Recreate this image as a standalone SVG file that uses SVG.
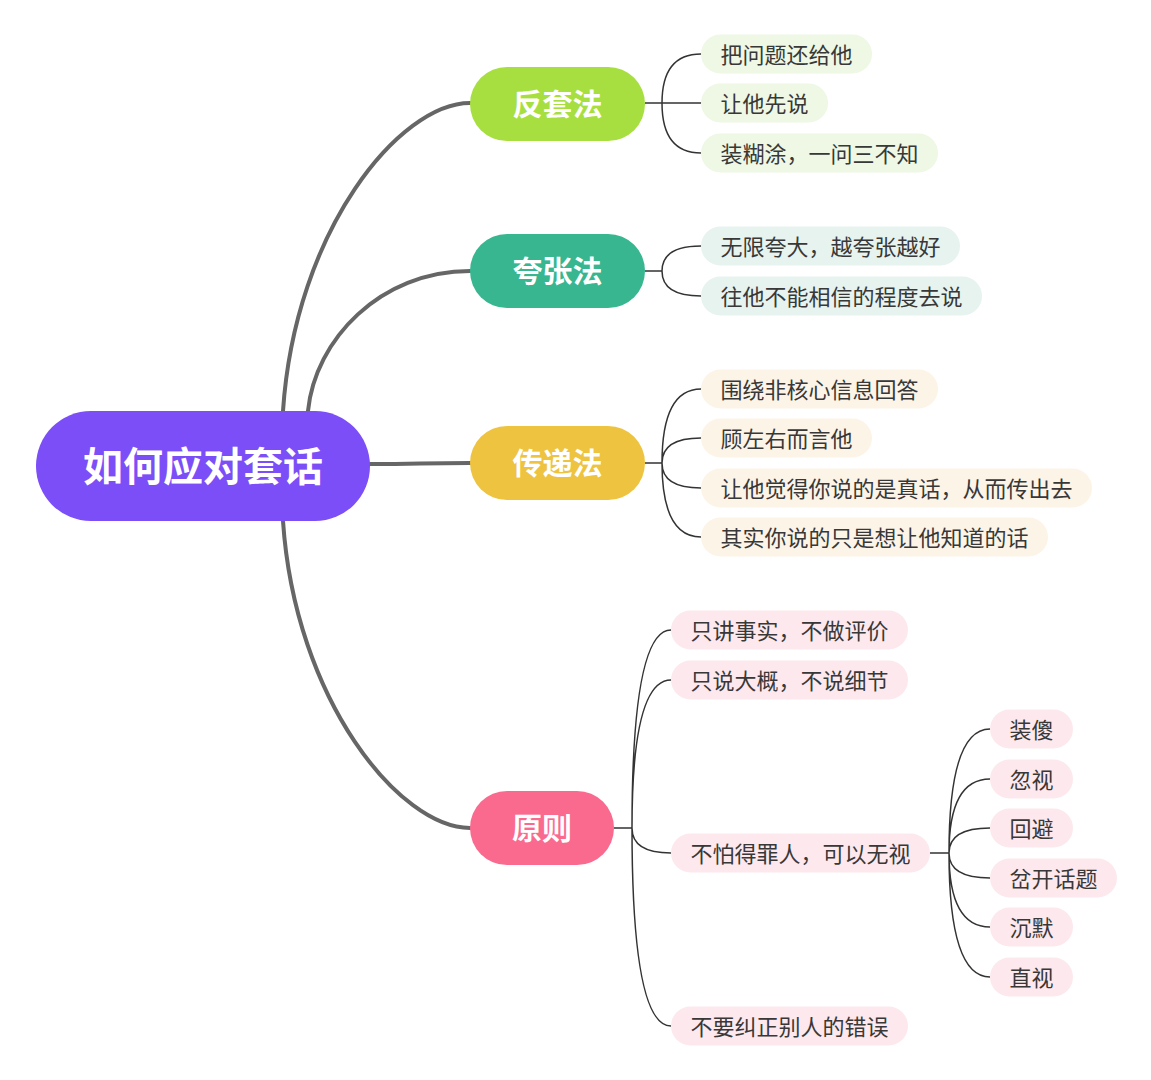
<svg xmlns="http://www.w3.org/2000/svg" width="1151" height="1080" viewBox="0 0 1151 1080">
<style>
text{font-family:"Noto Sans CJK SC","Noto Sans",sans-serif;dominant-baseline:central;text-anchor:middle}
.leaf text{font-size:22px;fill:#383838}
.main text{font-size:30px;font-weight:bold;fill:#fff}
.trunk{fill:none;stroke:#666;stroke-width:4;stroke-linecap:round}
.twig{fill:none;stroke:#333;stroke-width:1.5}
.g{fill:#EEF8E5}.t{fill:#E7F3EF}.c{fill:#FDF4E8}.p{fill:#FDE9ED}
</style>
<rect width="1151" height="1080" fill="#fff"/>
<g id="connectors">
<path class="trunk" d="M283,411 C295,230 400,103 470,103"/>
<path class="trunk" d="M308,411 C315,340 380,271 470,271"/>
<path class="trunk" d="M370,464 C420,464 420,463 470,463"/>
<path class="trunk" d="M283,521 C295,700 400,828 470,828"/>
<path class="twig" d="M645,103 H701 M662,103 Q662,54 701,54 M662,103 Q662,153 701,153"/>
<path class="twig" d="M645,271 H662 Q662,246 701,246 M662,271 Q662,296 701,296"/>
<path class="twig" d="M645,463 H662 Q662,389 701,389 M662,463 Q662,438 701,438 M662,463 Q662,488 701,488 M662,463 Q662,537 701,537"/>
<path class="twig" d="M614,828 H632 Q632,630 671,630 M632,828 Q632,680 671,680 M632,828 Q632,853 671,853 M632,828 Q632,1026 671,1026"/>
<path class="twig" d="M930,853 H949 Q949,729 990,729 M949,853 Q949,779 990,779 M949,853 Q949,828 990,828 M949,853 Q949,878 990,878 M949,853 Q949,927 990,927 M949,853 Q949,977 990,977"/>
</g>
<g id="root">
<rect x="36" y="411" width="334" height="110" rx="55" fill="#7B4EF8"/>
<text x="203" y="464" font-size="40" font-weight="bold" fill="#fff">如何应对套话</text>
</g>
<g id="n-fantao" class="main"><rect x="470" y="67" width="175" height="74" rx="37" fill="#A7DF40"/><text x="557.5" y="102">反套法</text></g>
<g id="n-kuazhang" class="main"><rect x="470" y="234" width="175" height="74" rx="37" fill="#37B690"/><text x="557.5" y="269">夸张法</text></g>
<g id="n-chuandi" class="main"><rect x="470" y="426" width="175" height="74" rx="37" fill="#EEC33F"/><text x="557.5" y="461">传递法</text></g>
<g id="n-yuanze" class="main"><rect x="470" y="791" width="144" height="74" rx="37" fill="#F96A8E"/><text x="542" y="826">原则</text></g>

<g id="l1" class="leaf"><rect class="g" x="701" y="34.5" width="171" height="39" rx="19.5"/><text x="786.5" y="52.5">把问题还给他</text></g>
<g id="l2" class="leaf"><rect class="g" x="701" y="83.5" width="127" height="39" rx="19.5"/><text x="764.5" y="101.5">让他先说</text></g>
<g id="l3" class="leaf"><rect class="g" x="701" y="133.5" width="237" height="39" rx="19.5"/><text x="819.5" y="151.5">装糊涂，一问三不知</text></g>

<g id="l4" class="leaf"><rect class="t" x="701" y="226.5" width="259" height="39" rx="19.5"/><text x="830.5" y="244.5">无限夸大，越夸张越好</text></g>
<g id="l5" class="leaf"><rect class="t" x="701" y="276.5" width="281" height="39" rx="19.5"/><text x="841.5" y="294.5">往他不能相信的程度去说</text></g>

<g id="l6" class="leaf"><rect class="c" x="701" y="369.5" width="237" height="39" rx="19.5"/><text x="819.5" y="387.5">围绕非核心信息回答</text></g>
<g id="l7" class="leaf"><rect class="c" x="701" y="418.5" width="171" height="39" rx="19.5"/><text x="786.5" y="436.5">顾左右而言他</text></g>
<g id="l8" class="leaf"><rect class="c" x="701" y="468.5" width="391" height="39" rx="19.5"/><text x="896.5" y="486.5">让他觉得你说的是真话，从而传出去</text></g>
<g id="l9" class="leaf"><rect class="c" x="701" y="517.5" width="347" height="39" rx="19.5"/><text x="874.5" y="535.5">其实你说的只是想让他知道的话</text></g>

<g id="l10" class="leaf"><rect class="p" x="671" y="610.5" width="237" height="39" rx="19.5"/><text x="789.5" y="628.5">只讲事实，不做评价</text></g>
<g id="l11" class="leaf"><rect class="p" x="671" y="660.5" width="237" height="39" rx="19.5"/><text x="789.5" y="678.5">只说大概，不说细节</text></g>
<g id="l12" class="leaf"><rect class="p" x="671" y="833.5" width="259" height="39" rx="19.5"/><text x="800.5" y="851.5">不怕得罪人，可以无视</text></g>
<g id="l13" class="leaf"><rect class="p" x="671" y="1006.5" width="237" height="39" rx="19.5"/><text x="789.5" y="1024.5">不要纠正别人的错误</text></g>

<g id="s1" class="leaf"><rect class="p" x="990" y="709.5" width="83" height="39" rx="19.5"/><text x="1031.5" y="727.5">装傻</text></g>
<g id="s2" class="leaf"><rect class="p" x="990" y="759.5" width="83" height="39" rx="19.5"/><text x="1031.5" y="777.5">忽视</text></g>
<g id="s3" class="leaf"><rect class="p" x="990" y="808.5" width="83" height="39" rx="19.5"/><text x="1031.5" y="826.5">回避</text></g>
<g id="s4" class="leaf"><rect class="p" x="990" y="858.5" width="127" height="39" rx="19.5"/><text x="1053.5" y="876.5">岔开话题</text></g>
<g id="s5" class="leaf"><rect class="p" x="990" y="907.5" width="83" height="39" rx="19.5"/><text x="1031.5" y="925.5">沉默</text></g>
<g id="s6" class="leaf"><rect class="p" x="990" y="957.5" width="83" height="39" rx="19.5"/><text x="1031.5" y="975.5">直视</text></g>
</svg>
